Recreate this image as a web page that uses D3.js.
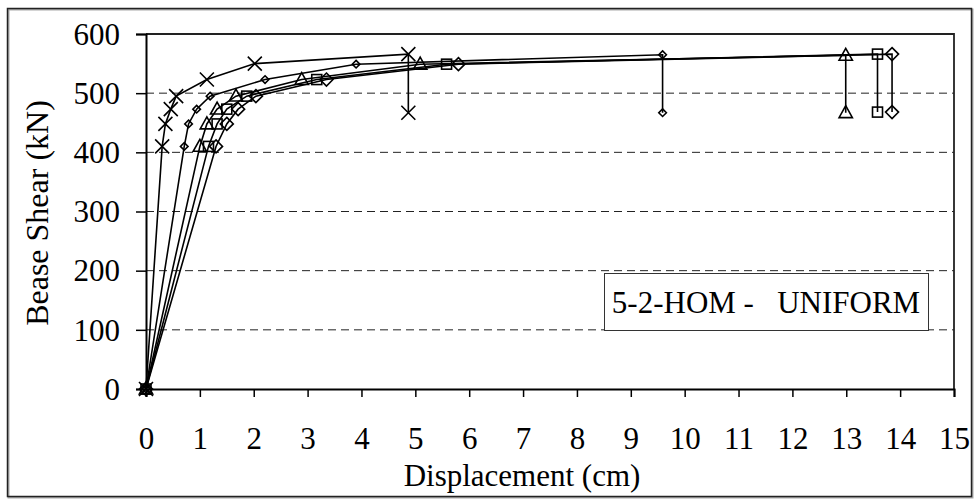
<!DOCTYPE html>
<html><head><meta charset="utf-8">
<script src="https://cdn.jsdelivr.net/npm/d3@7"></script>
<style>
html,body{margin:0;padding:0;background:#fff;}
svg text{font-family:"Liberation Serif","Times New Roman",serif;fill:#000;}
</style></head>
<body><svg id="c" width="974" height="499"></svg>
<script>
// ---- data ----
const xTickValues = [0,1,2,3,4,5,6,7,8,9,10,11,12,13,14,15];
const yTickValues = [0,100,200,300,400,500,600];
const gridValues = [100,200,300,400,500];
const xLabel = "Displacement (cm)";
const yLabel = "Bease Shear (kN)";
const legendText = "5-2-HOM -   UNIFORM";

const crossX = [0, 0.30, 0.36, 0.46, 0.56, 1.13, 2.02, 4.87, 4.87];
const crossY = [0, 410, 448, 473, 495, 523, 550, 566, 467];
const smallDiamondX = [0, 0.71, 0.79, 0.94, 1.19, 2.21, 3.90, 9.59, 9.59];
const smallDiamondY = [0, 410, 448, 473, 495, 523, 549, 565, 467];
const triangleX = [0, 1.00, 1.13, 1.32, 1.67, 2.89, 5.09, 12.99, 12.99];
const triangleY = [0, 410, 448, 473, 495, 523, 549, 564, 467];
const squareX = [0, 1.16, 1.32, 1.50, 1.87, 3.17, 5.58, 13.58, 13.58];
const squareY = [0, 410, 448, 473, 495, 523, 549, 566, 468];
const diamondX = [0, 1.30, 1.50, 1.71, 2.04, 3.35, 5.80, 13.85, 13.85];
const diamondY = [0, 410, 448, 473, 495, 523, 549, 566, 468];

const series = [
  {marker:"cross", xs:crossX, ys:crossY},
  {marker:"smallDiamond", xs:smallDiamondX, ys:smallDiamondY},
  {marker:"triangle", xs:triangleX, ys:triangleY},
  {marker:"square", xs:squareX, ys:squareY},
  {marker:"diamond", xs:diamondX, ys:diamondY}
];

// ---- layout ----
const svg = d3.select("#c");
const L = 146, R = 954, T = 34, B = 389;
const FS = 31;
const x = d3.scaleLinear().domain([0,15]).range([L,R]);
const y = d3.scaleLinear().domain([0,600]).range([B,T]);

// outer frame
svg.append("rect").attr("x",8.5).attr("y",9.5).attr("width",964).attr("height",488)
  .attr("fill","none").attr("stroke","#aaa").attr("stroke-width",2);
svg.append("rect").attr("x",7.5).attr("y",8.5).attr("width",964).attr("height",488)
  .attr("fill","none").attr("stroke","#222").attr("stroke-width",1.5);

// gridlines
svg.append("g").selectAll("line").data(gridValues).join("line")
  .attr("x1",L).attr("x2",R).attr("y1",d=>y(d)).attr("y2",d=>y(d))
  .attr("stroke","#222").attr("stroke-width",1).attr("stroke-dasharray","8,5");

// plot frame top/right
svg.append("path").attr("d",`M${L},${T}H${R}V${B}`).attr("fill","none")
  .attr("stroke","#222").attr("stroke-width",1.8);

// axes
const xAxis = d3.axisBottom(x).tickValues(xTickValues).tickSize(8).tickPadding(30).tickFormat(d3.format("d"));
const gx = svg.append("g").attr("transform",`translate(0,${B})`).call(xAxis);
const yAxis = d3.axisLeft(y).tickValues(yTickValues).tickSize(10).tickPadding(16).tickFormat(d3.format("d"));
const gy = svg.append("g").attr("transform",`translate(${L},0)`).call(yAxis);
[gx,gy].forEach(g=>{
  g.select(".domain").attr("stroke","#000").attr("stroke-width",2);
  g.selectAll(".tick line").attr("stroke","#000").attr("stroke-width",1.5);
  g.selectAll(".tick text").attr("font-size",FS).attr("font-family","Liberation Serif, Times New Roman, serif");
});
gy.selectAll(".tick text").attr("dy","0.33em");

// axis titles
svg.append("text").attr("x",522).attr("y",486).attr("text-anchor","middle")
  .attr("font-size",FS).text(xLabel);
svg.append("text").attr("transform",`translate(48,213) rotate(-90)`)
  .attr("text-anchor","middle").attr("font-size",32).text(yLabel);

// lines
const line = d3.line().x(d=>x(d[0])).y(d=>y(d[1]));
const gLines = svg.append("g");
series.forEach(s=>{
  const pts = s.xs.map((v,i)=>[v,s.ys[i]]);
  gLines.append("path").attr("d",line(pts)).attr("fill","none")
    .attr("stroke","#000").attr("stroke-width",1.6);
});

// markers
function drawMarker(g, type, cx, cy){
  const st = {fill:"none", stroke:"#000", "stroke-width":1.6};
  let el;
  if(type==="cross"){
    const r=7;
    el = g.append("path").attr("d",`M${cx-r},${cy-r}L${cx+r},${cy+r}M${cx-r},${cy+r}L${cx+r},${cy-r}`);
  } else if(type==="smallDiamond"){
    const r=3.8;
    el = g.append("path").attr("d",`M${cx},${cy-r}L${cx+r},${cy}L${cx},${cy+r}L${cx-r},${cy}Z`);
  } else if(type==="diamond"){
    const r=6.5;
    el = g.append("path").attr("d",`M${cx},${cy-r}L${cx+r},${cy}L${cx},${cy+r}L${cx-r},${cy}Z`);
  } else if(type==="square"){
    const r=5;
    el = g.append("rect").attr("x",cx-r).attr("y",cy-r).attr("width",2*r).attr("height",2*r);
  } else if(type==="triangle"){
    const r=7;
    el = g.append("path").attr("d",`M${cx},${cy-r}L${cx+r*0.95},${cy+r*0.7}L${cx-r*0.95},${cy+r*0.7}Z`);
  }
  Object.entries(st).forEach(([k,v])=>el.attr(k,v));
}
const gM = svg.append("g");
series.forEach(s=>{
  s.xs.forEach((v,i)=>drawMarker(gM, s.marker, x(v), y(s.ys[i])));
});

// legend box
const lb = svg.append("g");
lb.append("rect").attr("x",604.5).attr("y",273.5).attr("width",324).attr("height",57)
  .attr("fill","#fff").attr("stroke","#333").attr("stroke-width",1);
lb.append("text").attr("x",766).attr("y",313).attr("text-anchor","middle")
  .attr("font-size",31).attr("xml:space","preserve").style("white-space","pre").text(legendText);
</script></body></html>
